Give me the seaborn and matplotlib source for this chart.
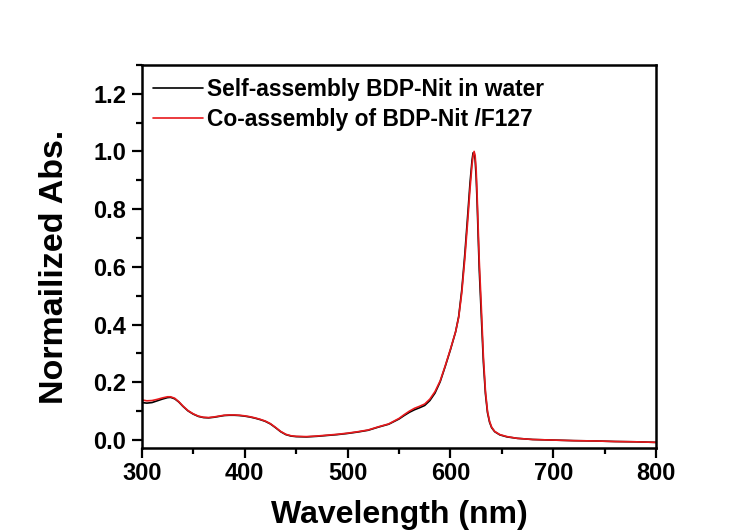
import matplotlib
matplotlib.use("Agg")
import matplotlib.pyplot as plt
from matplotlib.ticker import MultipleLocator
import numpy as np
import pandas as pd
import seaborn as sns

# Absorption spectra (wavelength in nm, absorbance normalised to the main peak)
wavelength_self = [300, 305, 310, 315, 320, 325, 328, 332, 336, 340, 345, 350, 355, 360,
                   365, 370, 375, 380, 385, 390, 395, 400, 405, 410, 415, 420, 425, 430,
                   435, 440, 445, 450, 460, 470, 480, 490, 500, 510, 520, 530, 540, 550,
                   555, 560, 565, 570, 575, 580, 585, 590, 595, 600, 605, 608, 611, 614,
                   617, 619, 621, 622, 623, 624, 625, 626, 627, 628, 630, 632, 634, 636,
                   638, 640, 643, 648, 655, 665, 680, 700, 720, 740, 760, 780, 800]
abs_self = [0.130, 0.128, 0.130, 0.136, 0.142, 0.147, 0.148, 0.143, 0.132, 0.117, 0.101,
            0.090, 0.082, 0.078, 0.077, 0.079, 0.082, 0.085, 0.086, 0.086, 0.085, 0.083,
            0.080, 0.076, 0.071, 0.065, 0.056, 0.043, 0.029, 0.019, 0.014, 0.012, 0.011,
            0.013, 0.016, 0.019, 0.023, 0.028, 0.034, 0.045, 0.055, 0.073, 0.085, 0.096,
            0.105, 0.112, 0.120, 0.137, 0.163, 0.202, 0.256, 0.313, 0.375, 0.428, 0.52,
            0.645, 0.79, 0.89, 0.97, 0.995, 0.995, 0.97, 0.91, 0.815, 0.70, 0.59, 0.43,
            0.27, 0.16, 0.095, 0.062, 0.043, 0.029, 0.018, 0.011, 0.006, 0.002, 0.0,
            -0.002, -0.003, -0.005, -0.006, -0.008]

wavelength_co = wavelength_self
abs_co = [0.139, 0.136, 0.137, 0.141, 0.146, 0.150, 0.150, 0.145, 0.133, 0.118, 0.102,
          0.091, 0.083, 0.079, 0.078, 0.080, 0.083, 0.086, 0.087, 0.087, 0.086, 0.084,
          0.081, 0.077, 0.072, 0.066, 0.057, 0.044, 0.030, 0.020, 0.015, 0.013, 0.012,
          0.014, 0.017, 0.020, 0.024, 0.029, 0.035, 0.046, 0.056, 0.075, 0.088, 0.100,
          0.110, 0.117, 0.125, 0.142, 0.168, 0.205, 0.258, 0.315, 0.375, 0.425, 0.51,
          0.63, 0.77, 0.87, 0.955, 0.985, 1.0, 0.985, 0.935, 0.84, 0.73, 0.62, 0.46,
          0.29, 0.17, 0.10, 0.065, 0.045, 0.030, 0.019, 0.012, 0.006, 0.002, 0.0,
          -0.002, -0.003, -0.005, -0.006, -0.008]

labels = ["Self-assembly BDP-Nit in water", "Co-assembly of BDP-Nit /F127"]
colors = ["#000000", "#e8191c"]

x_ticks = [300, 400, 500, 600, 700, 800]
y_ticks = [0.0, 0.2, 0.4, 0.6, 0.8, 1.0, 1.2]

sns.set_theme(style="ticks")
plt.rcParams["font.family"] = ["Liberation Sans", "DejaVu Sans"]
plt.rcParams["font.weight"] = "bold"
plt.rcParams["text.color"] = "black"
plt.rcParams["axes.labelcolor"] = "black"

fig = plt.figure(figsize=(7.5, 5.31), dpi=100)
ax = fig.add_axes([0.189, 0.156, 0.686, 0.722])

df_self = pd.DataFrame({"wl": wavelength_self, "abs": abs_self})
df_co = pd.DataFrame({"wl": wavelength_co, "abs": abs_co})
sns.lineplot(data=df_self, x="wl", y="abs", color=colors[0], lw=1.2, ax=ax, label=labels[0])
sns.lineplot(data=df_co, x="wl", y="abs", color=colors[1], lw=1.2, ax=ax, label=labels[1])

ax.set_xlim(300, 800)
ax.set_ylim(-0.028, 1.30)
ax.set_xticks(x_ticks)
ax.set_yticks(y_ticks)
ax.set_xticklabels([str(t) for t in x_ticks])
ax.set_yticklabels([f"{t:.1f}" for t in y_ticks])
ax.xaxis.set_minor_locator(MultipleLocator(50))
ax.yaxis.set_minor_locator(MultipleLocator(0.1))
ax.tick_params(axis="both", which="major", direction="out", length=7, width=1.6,
               labelsize=17, color="black", labelcolor="black")
ax.tick_params(axis="x", which="major", pad=3)
ax.tick_params(axis="y", which="major", pad=4)
ax.tick_params(axis="both", which="minor", direction="out", length=4, width=1.6, color="black")
ax.tick_params(top=False, right=False, which="both")
for lab in ax.get_xticklabels() + ax.get_yticklabels():
    lab.set_fontweight("bold")
for sp in ax.spines.values():
    sp.set_visible(True)
    sp.set_linewidth(1.8)
    sp.set_color("black")

ax.set_xlabel("Wavelength (nm)", fontsize=23, fontweight="bold", color="black")
ax.set_ylabel("Normailized Abs.", fontsize=24.5, fontweight="bold", color="black")
ax.xaxis.set_label_coords(0.5, -0.196)
ax.xaxis.label.set_va("baseline")
ax.yaxis.set_label_coords(-0.153, 0.474)
ax.yaxis.label.set_va("baseline")

leg = ax.legend(loc="upper left", bbox_to_anchor=(0.022, 0.965), frameon=False,
                handlelength=2.2, handletextpad=0.16, labelspacing=0.3,
                borderpad=0, borderaxespad=0, prop={"weight": "bold", "size": 16.4})
for txt in leg.get_texts():
    txt.set_color("black")
for line in leg.get_lines():
    line.set_linewidth(1.2)

fig.savefig("out.png", dpi=100, facecolor="white")
